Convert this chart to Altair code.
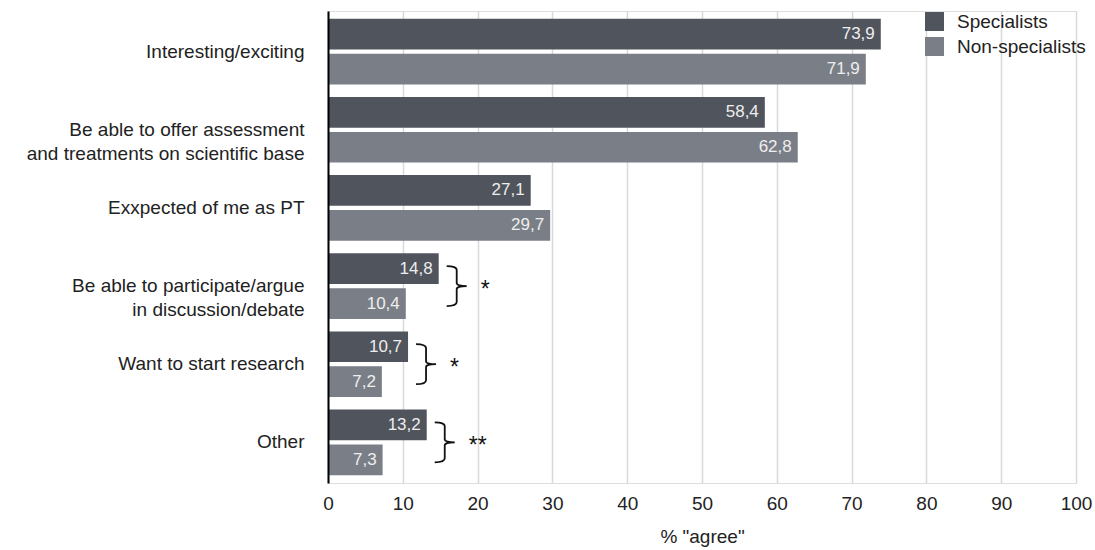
import altair as alt
import pandas as pd

# Survey answers: share of respondents who agree, per reason and group
categories = [
    "Interesting/exciting",
    "Be able to offer assessment\u00a0\u00a0\u00a0\u00a0\u00a0\nand treatments on scientific base",
    "Exxpected of me as PT",
    "Be able to participate/argue\nin discussion/debate\u00a0\u00a0\u00a0\u00a0\u00a0\u00a0",
    "Want to start research",
    "Other",
]
groups = ["Specialists", "Non-specialists"]
specialists = [73.9, 58.4, 27.1, 14.8, 10.7, 13.2]
non_specialists = [71.9, 62.8, 29.7, 10.4, 7.2, 7.3]
significance = ["", "", "", "*", "*", "**"]
x_ticks = [0, 10, 20, 30, 40, 50, 60, 70, 80, 90, 100]

DARK = "#50545c"
LIGHT = "#7a7f87"
FONT = "Liberation Sans"
INK = "#222222"

rows = []
for cat, s, n in zip(categories, specialists, non_specialists):
    rows.append({"reason": cat, "group": groups[0], "pct": s})
    rows.append({"reason": cat, "group": groups[1], "pct": n})
bars_df = pd.DataFrame(rows)
bars_df["label"] = bars_df["pct"].map(lambda v: f"{v:.1f}".replace(".", ","))

sig_df = pd.DataFrame(
    {
        "reason": categories,
        "top": [max(s, n) for s, n in zip(specialists, non_specialists)],
        "stars": significance,
    }
)
sig_df = sig_df[sig_df["stars"] != ""]

y_enc = alt.Y(
    "reason:N",
    sort=categories,
    title=None,
    scale=alt.Scale(paddingInner=0.16, paddingOuter=0.1),
    axis=alt.Axis(
        labelExpr="split(datum.label, '\\n')",
        labelFont=FONT,
        labelFontSize=19,
        labelColor=INK,
        labelLineHeight=24,
        labelLimit=400,
        labelPadding=24,
        ticks=False,
        domainColor="#000000",
        domainWidth=2,
        zindex=1,
    ),
)
x_enc = alt.X(
    "pct:Q",
    scale=alt.Scale(domain=[0, 100], nice=False),
    title='% "agree"',
    axis=alt.Axis(
        values=x_ticks,
        format="d",
        domain=False,
        ticks=False,
        grid=True,
        gridColor="#d9d9d9",
        gridWidth=1.5,
        labelFlush=False,
        labelFont=FONT,
        labelFontSize=19,
        labelColor=INK,
        labelPadding=11,
        titleFont=FONT,
        titleFontSize=19,
        titleFontWeight="normal",
        titleColor=INK,
        titlePadding=14,
    ),
)
yoff = alt.YOffset(
    "group:N", sort=groups, scale=alt.Scale(paddingInner=0.12, paddingOuter=0)
)

bars = (
    alt.Chart(bars_df)
    .mark_bar()
    .encode(
        x=x_enc,
        y=y_enc,
        yOffset=yoff,
        color=alt.Color(
            "group:N",
            sort=groups,
            scale=alt.Scale(domain=groups, range=[DARK, LIGHT]),
            legend=alt.Legend(
                title=None,
                orient="none",
                legendX=597,
                legendY=1,
                symbolType="square",
                symbolSize=361,
                symbolStrokeWidth=0,
                symbolOpacity=1,
                labelFont=FONT,
                labelFontSize=19,
                labelColor=INK,
                labelOffset=13,
                labelLimit=300,
                rowPadding=5,
                padding=0,
            ),
        ),
    )
)

values = (
    alt.Chart(bars_df)
    .mark_text(align="right", baseline="middle", dx=-6, font=FONT, fontSize=17, color="#eeeeee")
    .encode(x="pct:Q", y=alt.Y("reason:N", sort=categories), yOffset=yoff, text="label:N")
)

# right-facing curly brace tying each significant pair together
brace_path = (
    "M -0.5 -1 Q 0 -1 0 -0.8 L 0 -0.15 Q 0 0 0.5 0 "
    "Q 0 0 0 0.15 L 0 0.8 Q 0 1 -0.5 1"
)
braces = (
    alt.Chart(sig_df)
    .mark_point(shape=brace_path, size=1600, filled=False, color="#111111", strokeWidth=1.8, opacity=1, xOffset=18)
    .encode(x="top:Q", y=alt.Y("reason:N", sort=categories))
)
stars = (
    alt.Chart(sig_df)
    .mark_text(align="left", baseline="middle", dx=42, dy=4, font=FONT, fontSize=23, color="#111111")
    .encode(x="top:Q", y=alt.Y("reason:N", sort=categories), text="stars:N")
)

chart = (
    alt.layer(bars, values, braces, stars)
    .properties(
        width=748,
        height=472,
        autosize=alt.AutoSizeParams(type="none"),
        padding={"left": 328, "top": 11, "right": 19, "bottom": 67},
    )
    .configure_view(stroke=None)
    .configure(background="white")
)

chart.save("out.html", embed_options={"renderer": "svg", "actions": False})
